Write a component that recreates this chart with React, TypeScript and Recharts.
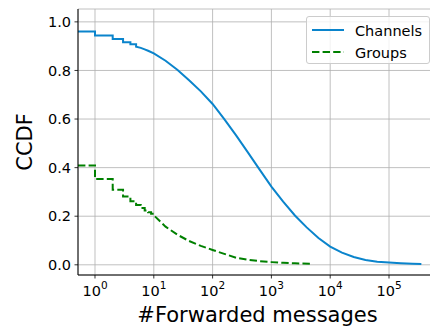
import React from "react";
import { LineChart, Line, XAxis, YAxis, CartesianGrid, Legend } from "recharts";

// CCDF of forwarded messages
const channelStepX = [0.514, 1, 2, 3, 4, 5];
const channelStepY = [0.96, 0.944, 0.93, 0.916, 0.908, 0.898];
const channelTailX = [6, 7, 8, 10, 15.85, 25.1, 39.8, 63.1, 100, 158, 251, 398, 631, 1000, 1585, 2512, 3981, 6310, 1e4, 1.585e4, 2.512e4, 3.981e4, 6.31e4, 1e5, 1.585e5, 2.512e5, 3.55e5];
const channelTailY = [0.893, 0.887, 0.881, 0.87, 0.84, 0.803, 0.76, 0.714, 0.662, 0.6, 0.533, 0.463, 0.392, 0.322, 0.26, 0.203, 0.154, 0.11, 0.075, 0.05, 0.032, 0.02, 0.013, 0.009, 0.006, 0.004, 0.003];

const groupStepX = [0.514, 1, 2, 3, 4, 5, 6, 7, 8, 9, 10];
const groupStepY = [0.409, 0.353, 0.309, 0.281, 0.262, 0.246, 0.234, 0.224, 0.216, 0.21, 0.204];
const groupTailX = [15.85, 25.1, 39.8, 63.1, 100, 158, 251, 398, 631, 1000, 1585, 2512, 4900];
const groupTailY = [0.157, 0.124, 0.098, 0.078, 0.061, 0.045, 0.029, 0.021, 0.015, 0.011, 0.008, 0.006, 0.004];

const xTicks = [1, 10, 100, 1000, 10000, 100000];
const yTicks = [0, 0.2, 0.4, 0.6, 0.8, 1.0];
const minorTicks = [0.6, 0.7, 0.8, 0.9];
for (let k = 0; k <= 5; k++) {
  for (let m = 2; m <= 9; m++) minorTicks.push(m * Math.pow(10, k));
}

const FONT = "DejaVu Sans";
const BLUE = "#0a84cc";
const GREEN = "#008000";

// turn step values into a drawable path (vertical drop at each x), then add the smooth tail
const buildSeries = (sx: number[], sy: number[], tx: number[], ty: number[]) => {
  const pts: { x: number; y: number }[] = [{ x: sx[0], y: sy[0] }];
  for (let i = 1; i < sx.length; i++) {
    pts.push({ x: sx[i], y: sy[i - 1] });
    pts.push({ x: sx[i], y: sy[i] });
  }
  tx.forEach((x, i) => pts.push({ x, y: ty[i] }));
  return pts;
};

const channels = buildSeries(channelStepX, channelStepY, channelTailX, channelTailY);
const groups = buildSeries(groupStepX, groupStepY, groupTailX, groupTailY);

const PowTick = (props: any) => {
  const { x, y, payload } = props;
  const exp = Math.round(Math.log10(payload.value));
  return (
    <text x={x} y={y + 14} textAnchor="middle" fontFamily={FONT} fontSize={14.5} fill="#000">
      10
      <tspan dy={-7} fontSize={10.5}>{exp}</tspan>
    </text>
  );
};

const LegendBox = () => (
  <div
    style={{
      width: 122,
      height: 46,
      border: "1px solid #cccccc",
      borderRadius: 3,
      background: "rgba(255,255,255,0.8)",
      fontFamily: FONT,
      fontSize: 14.5,
      position: "relative",
    }}
  >
    <svg width={122} height={46} style={{ position: "absolute", left: 0, top: 0 }}>
      <line x1={5} x2={37} y1={13} y2={13} stroke={BLUE} strokeWidth={2} />
      <line x1={5} x2={37} y1={35} y2={35} stroke={GREEN} strokeWidth={2} strokeDasharray="7.4 3.2" />
      <text x={48} y={19} fontFamily={FONT} fontSize={14.5} fill="#000">Channels</text>
      <text x={48} y={41} fontFamily={FONT} fontSize={14.5} fill="#000">Groups</text>
    </svg>
  </div>
);

export default function App() {
  return (
    <div style={{ width: 430, height: 329, overflow: "hidden" }}>
      <style>{"body { margin: 0; }"}</style>
      <LineChart width={437} height={329} margin={{ top: 9, right: 0, bottom: 0, left: 0 }}>
        <CartesianGrid stroke="#b0b0b0" strokeWidth={0.8} />
        <XAxis
          dataKey="x"
          type="number"
          scale="log"
          domain={[0.514, 6.55e5]}
          allowDataOverflow
          ticks={xTicks}
          interval={0}
          height={54}
          tick={<PowTick />}
          tickSize={3.5}
          tickMargin={3.5}
          tickLine={{ stroke: "#000", strokeWidth: 0.8 }}
          axisLine={{ stroke: "#000", strokeWidth: 1 }}
          label={{
            content: () => (
              <text x={257.5} y={321.5} textAnchor="middle" fontFamily={FONT} fontSize={21} fill="#000">
                #Forwarded messages
              </text>
            ),
          }}
        />
        <XAxis
          xAxisId="minor"
          dataKey="x"
          type="number"
          scale="log"
          domain={[0.514, 6.55e5]}
          allowDataOverflow
          ticks={minorTicks}
          interval={0}
          height={0}
          tick={false}
          tickSize={2}
          tickLine={{ stroke: "#000", strokeWidth: 0.6 }}
          axisLine={false}
        />
        <XAxis xAxisId="top" orientation="top" height={0} tick={false} tickLine={false} axisLine={{ stroke: "#000", strokeWidth: 1 }} />
        <YAxis
          type="number"
          domain={[-0.042, 1.053]}
          allowDataOverflow
          ticks={yTicks}
          interval={0}
          width={78}
          tickFormatter={(v: number) => v.toFixed(1)}
          tick={{ fontFamily: FONT, fontSize: 14.5, fill: "#000" }}
          tickSize={3.5}
          tickMargin={3.5}
          tickLine={{ stroke: "#000", strokeWidth: 0.8 }}
          axisLine={{ stroke: "#000", strokeWidth: 1 }}
          label={{
            content: () => (
              <text
                x={0}
                y={0}
                transform="translate(32, 142) rotate(-90)"
                textAnchor="middle"
                fontFamily={FONT}
                fontSize={21}
                fill="#000"
              >
                CCDF
              </text>
            ),
          }}
        />
        <YAxis yAxisId="right" orientation="right" width={0} tick={false} tickLine={false} axisLine={{ stroke: "#000", strokeWidth: 1 }} />
        <Legend
          layout="vertical"
          align="center"
          verticalAlign="middle"
          content={() => <LegendBox />}
          wrapperStyle={{ position: "absolute", left: 306, top: 16, width: 124, height: 48 }}
        />
        <Line
          data={channels}
          dataKey="y"
          name="Channels"
          type="linear"
          stroke={BLUE}
          strokeWidth={2}
          dot={false}
          isAnimationActive={false}
        />
        <Line
          data={groups}
          dataKey="y"
          name="Groups"
          type="linear"
          stroke={GREEN}
          strokeWidth={2}
          strokeDasharray="7.4 3.2"
          dot={false}
          isAnimationActive={false}
        />
      </LineChart>
    </div>
  );
}
